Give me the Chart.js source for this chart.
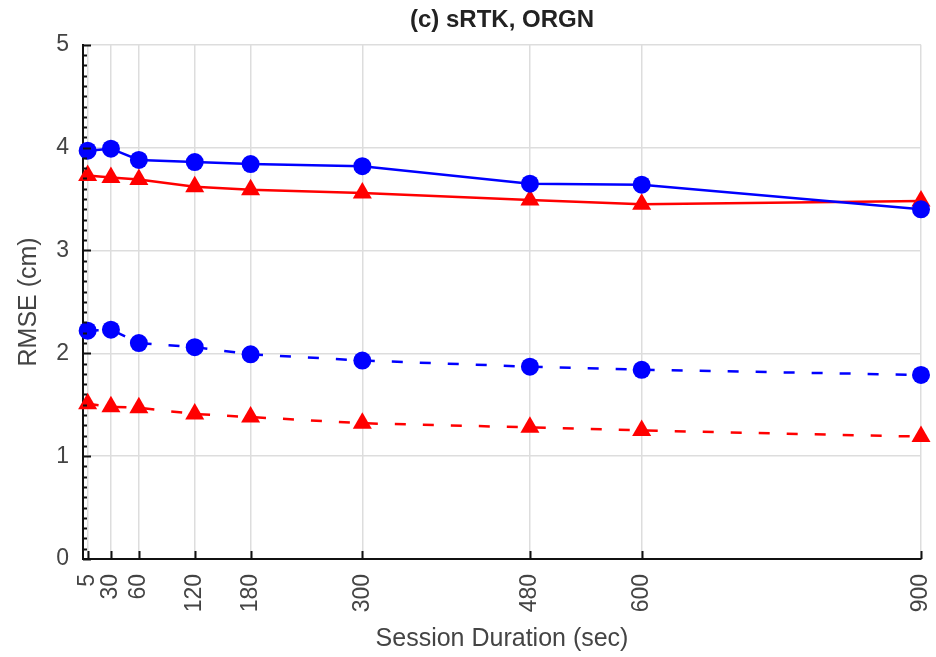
<!DOCTYPE html>
<html>
<head>
<meta charset="utf-8">
<script src="https://cdn.jsdelivr.net/npm/chart.js@4/dist/chart.umd.min.js"></script>
<style>
  html, body { margin: 0; padding: 0; background: #fff; }
  #wrap { width: 936px; height: 657px; }
</style>
</head>
<body>
<div id="wrap"><canvas id="myChart" width="936" height="657"></canvas></div>
<script>
// session durations (sec)
var durations = [5, 30, 60, 120, 180, 300, 480, 600, 900];
var yTicks = [0, 1, 2, 3, 4, 5];

// RMSE values (cm)
var blueSolid = [3.97, 3.99, 3.88, 3.86, 3.84, 3.82, 3.65, 3.64, 3.40];
var redSolid = [3.73, 3.71, 3.69, 3.62, 3.59, 3.56, 3.49, 3.45, 3.48];
var blueDashed = [2.22, 2.23, 2.10, 2.06, 1.99, 1.93, 1.87, 1.84, 1.79];
var redDashed = [1.51, 1.48, 1.47, 1.41, 1.38, 1.32, 1.28, 1.25, 1.19];

function pts(vals) {
  return durations.map(function(d, i) { return { x: d, y: vals[i] }; });
}

function series(vals, color, shape, dashed) {
  return {
    data: pts(vals),
    borderColor: color,
    backgroundColor: color,
    borderWidth: 2.5,
    borderDash: dashed ? [11, 17] : [],
    pointStyle: shape,
    pointRadius: shape === 'circle' ? 9 : 11,
    pointBorderWidth: 0,
    pointBackgroundColor: color,
    tension: 0,
    clip: false
  };
}

// small inward ticks like the original axes
var innerTicks = {
  id: 'innerTicks',
  afterDatasetsDraw: function(chart) {
    var c = chart.ctx, x = chart.scales.x, y = chart.scales.y;
    var left = chart.chartArea.left, bottom = chart.chartArea.bottom;
    c.save();
    c.strokeStyle = '#111';
    c.lineWidth = 2;
    c.beginPath();
    for (var v = 0; v <= 5.001; v += 0.1) {
      var py = Math.round(y.getPixelForValue(v)) + 0.5;
      var major = Math.abs(v - Math.round(v)) < 0.01;
      c.moveTo(left, py);
      c.lineTo(left + (major ? 8 : 4), py);
    }
    durations.forEach(function(d) {
      var px = Math.round(x.getPixelForValue(d)) + 0.5;
      c.moveTo(px, bottom);
      c.lineTo(px, bottom - 8);
    });
    c.stroke();
    c.restore();
  }
};

var ctx = document.getElementById('myChart').getContext('2d');
new Chart(ctx, {
  type: 'line',
  data: {
    datasets: [
      series(blueSolid, '#0000ff', 'circle', false),
      series(redSolid, '#ff0000', 'triangle', false),
      series(blueDashed, '#0000ff', 'circle', true),
      series(redDashed, '#ff0000', 'triangle', true)
    ]
  },
  options: {
    responsive: false,
    animation: false,
    layout: { autoPadding: false, padding: { left: 0, right: 15, top: 0, bottom: 0 } },
    plugins: {
      legend: { display: false },
      tooltip: { enabled: false },
      title: {
        display: true,
        fullSize: false,
        text: '(c) sRTK, ORGN',
        color: '#222',
        font: { family: 'Liberation Sans', size: 24, weight: 'bold' },
        padding: { top: 6, bottom: 10 }
      }
    },
    scales: {
      x: {
        type: 'linear',
        min: 0,
        max: 900,
        afterBuildTicks: function(scale) {
          scale.ticks = durations.map(function(d) { return { value: d }; });
        },
        afterFit: function(scale) {
          scale.height = 98;
          scale.paddingLeft = 0;
          scale.paddingRight = 0;
        },
        ticks: {
          minRotation: 90,
          maxRotation: 90,
          padding: 15,
          color: '#444',
          font: { family: 'Liberation Sans', size: 23 }
        },
        grid: { color: '#dddddd', lineWidth: 1.5, drawTicks: false },
        border: { color: '#111', width: 2 },
        title: {
          display: true,
          text: 'Session Duration (sec)',
          color: '#444',
          padding: { top: 0, bottom: 3 },
          font: { family: 'Liberation Sans', size: 25 }
        }
      },
      y: {
        min: 0,
        max: 5,
        afterBuildTicks: function(scale) {
          scale.ticks = yTicks.map(function(v) { return { value: v }; });
        },
        afterFit: function(scale) { scale.width = 83; },
        ticks: {
          padding: 14,
          color: '#444',
          font: { family: 'Liberation Sans', size: 23 }
        },
        grid: { color: '#dddddd', lineWidth: 1.5, drawTicks: false },
        border: { color: '#111', width: 2 },
        title: {
          display: true,
          text: 'RMSE (cm)',
          color: '#444',
          padding: { top: 14, bottom: 4 },
          font: { family: 'Liberation Sans', size: 25 }
        }
      }
    }
  },
  plugins: [innerTicks]
});
</script>
</body>
</html>
